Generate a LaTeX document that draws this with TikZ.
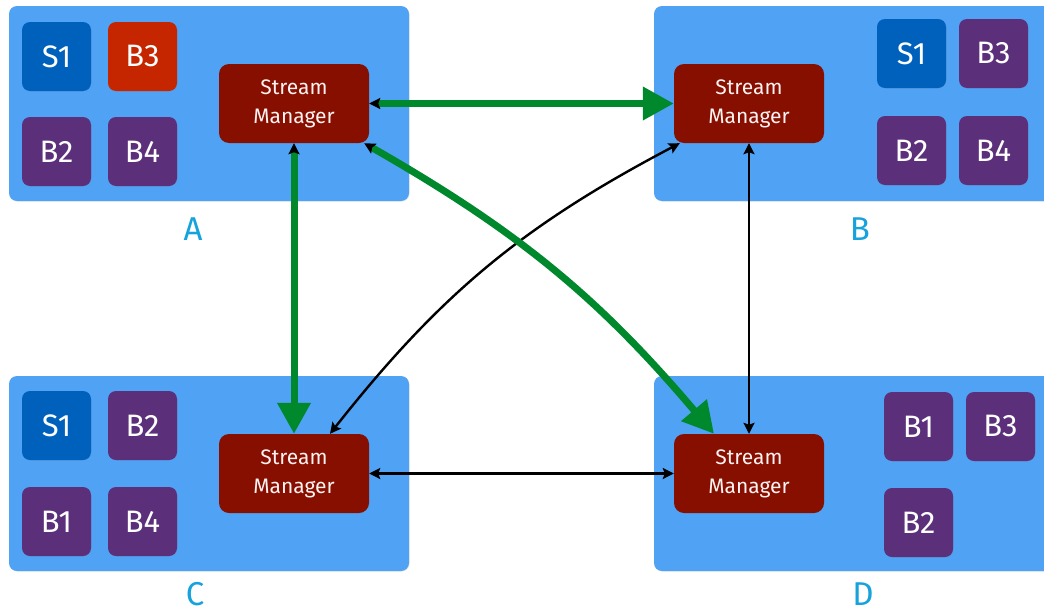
\documentclass[tikz,border=0pt]{standalone}
\usepackage{fontspec}
\setmainfont{Fira Sans}
\usetikzlibrary{arrows.meta,shadows}
\definecolor{hostblue}{RGB}{80,162,245}
\definecolor{spoutblue}{RGB}{0,97,188}
\definecolor{boltred}{RGB}{197,38,0}
\definecolor{boltpurple}{RGB}{92,47,123}
\definecolor{smred}{RGB}{134,15,0}
\definecolor{flowgreen}{RGB}{0,136,45}
\definecolor{labelcyan}{RGB}{22,162,218}
\tikzset{
  host/.style={draw=none, fill=hostblue, rounded corners=8pt,
    minimum width=400pt, minimum height=195pt,
    drop shadow={opacity=0.18, shadow xshift=0.6pt, shadow yshift=-0.6pt}},
  task/.style={rounded corners=8pt, minimum width=69pt, minimum height=69pt,
    text=white, font=\fontsize{31}{33}\selectfont, inner sep=0pt,
    drop shadow={opacity=0.2, shadow xshift=0.5pt, shadow yshift=-0.5pt}},
  spout/.style={task, fill=spoutblue},
  boltr/.style={task, fill=boltred},
  boltp/.style={task, fill=boltpurple},
  smgr/.style={fill=smred, rounded corners=10pt, minimum width=150pt,
    minimum height=79pt, text=white!95!red, align=center, inner sep=0pt,
    font=\fontsize{21}{29}\selectfont},
  hostlabel/.style={text=labelcyan, anchor=base, inner sep=0pt, text depth=0pt,
    font=\fontsize{33}{35}\selectfont},
  link/.style={line width=2.4pt, {Stealth[length=11pt,width=11pt,inset=2pt]}-{Stealth[length=11pt,width=11pt,inset=2pt]}},
  hot/.style={draw=flowgreen, line width=7pt,
    {Stealth[black,length=11pt,width=11pt,inset=2pt]}-{Triangle[flowgreen,length=31pt,width=32pt]}},
}
\begin{document}
\begin{tikzpicture}[x=1pt, y=-1pt]
\useasboundingbox (0,0) rectangle (1044,613);

% hosts
\node[host] (hostA) at (209,103.5) {};
\node[host] (hostB) at (854,103.5) {};
\node[host] (hostC) at (209,473.5) {};
\node[host] (hostD) at (854,473.5) {};

% host names
\node[hostlabel] (labA) at (193,240) {A};
\node[hostlabel] (labB) at (860,240) {B};
\node[hostlabel] (labC) at (195,605) {C};
\node[hostlabel] (labD) at (863,605) {D};

% tasks on host A
\node[spout] (aS1) at (56.5,56.5) {S1};
\node[boltr] (aB3) at (142.5,56.5) {B3};
\node[boltp] (aB2) at (56.5,151.5) {B2};
\node[boltp] (aB4) at (142.5,151.5) {B4};

% tasks on host B
\node[spout] (bS1) at (911.5,53.5) {S1};
\node[boltp] (bB3) at (993.5,53.5) {B3};
\node[boltp] (bB2) at (911.5,150.5) {B2};
\node[boltp] (bB4) at (993.5,150.5) {B4};

% tasks on host C
\node[spout] (cS1) at (56.5,425.5) {S1};
\node[boltp] (cB2) at (142.5,425.5) {B2};
\node[boltp] (cB1) at (56.5,521.5) {B1};
\node[boltp] (cB4) at (142.5,521.5) {B4};

% tasks on host D
\node[boltp] (dB1) at (918.5,426.5) {B1};
\node[boltp] (dB3) at (1000.5,426.5) {B3};
\node[boltp] (dB2) at (918.5,522.5) {B2};

% stream managers
\node[smgr] (smA) at (294,103.5) {Stream\\Manager};
\node[smgr] (smB) at (749,103.5) {Stream\\Manager};
\node[smgr] (smC) at (294,473.5) {Stream\\Manager};
\node[smgr] (smD) at (749,473.5) {Stream\\Manager};

% plain links between stream managers
\draw[link] (smB.south) -- (smD.north);
\draw[link] (smC.east) -- (smD.west);
\draw[link] ([xshift=6pt]smB.south west) to[bend right=12] ([xshift=36pt]smC.north);

% busy links leaving host A
\draw[hot] (smA.east) -- (smB.west);
\draw[hot] (smA.south) -- (smC.north);
\draw[hot] ([xshift=-5pt]smA.south east) to[bend left=10] ([xshift=-35pt]smD.north);
\end{tikzpicture}
\end{document}
